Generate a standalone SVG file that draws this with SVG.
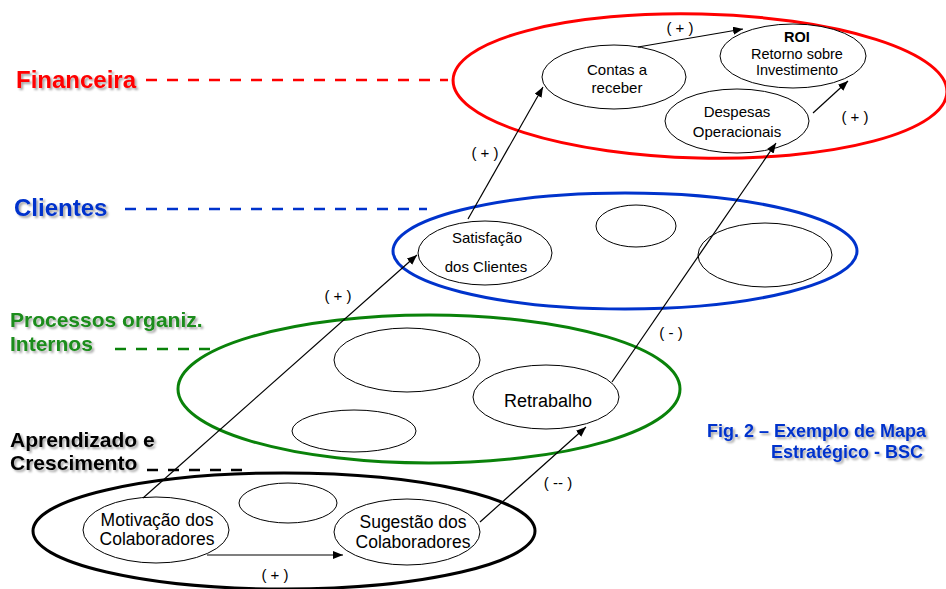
<svg xmlns="http://www.w3.org/2000/svg" width="946" height="589" viewBox="0 0 946 589">
<style>
.lay{fill:none;stroke-width:3}
.node{fill:#fff;stroke:#000;stroke-width:1}
.t{font-family:"Liberation Sans",Arial,sans-serif;fill:#000;text-anchor:middle}
.cat{font-family:"Liberation Sans",Arial,sans-serif;font-weight:bold}
.dash{stroke-width:2.6;stroke-dasharray:11 10;fill:none}
.con{stroke:#000;stroke-width:1.2;fill:none}
.sg{font-family:"Liberation Sans",Arial,sans-serif;font-size:15px;text-anchor:middle;fill:#000}
</style>
<defs>
<marker id="ah" markerUnits="userSpaceOnUse" markerWidth="11" markerHeight="9" refX="10" refY="4" orient="auto">
<path d="M0,0 L10,4 L0,8 z" fill="#000"/>
</marker>
<filter id="sh" x="-10%" y="-30%" width="130%" height="180%">
<feDropShadow dx="2" dy="2" stdDeviation="1.2" flood-color="#000" flood-opacity="0.35"/>
</filter>
</defs>
<rect width="946" height="589" fill="#fff"/>

<g id="layer-financeira">
<ellipse class="lay" cx="700" cy="86" rx="247" ry="72" stroke="#ff0000" transform="rotate(1.4 700 86)"/>
<text class="cat" x="16" y="88" font-size="24" fill="#ff0000" filter="url(#sh)">Financeira</text>
<line class="dash" x1="146" y1="80" x2="448" y2="80" stroke="#ff0000"/>
</g>
<g id="layer-clientes">
<ellipse class="lay" cx="625" cy="251" rx="232" ry="58" stroke="#0033cc"/>
<text class="cat" x="14" y="216" font-size="24" fill="#0033cc" filter="url(#sh)">Clientes</text>
<line class="dash" x1="125" y1="209" x2="427" y2="209" stroke="#0033cc"/>
</g>
<g id="layer-processos">
<ellipse class="lay" cx="429" cy="389" rx="251" ry="74" stroke="#0a820a"/>
<text class="cat" x="10" y="327" font-size="21" fill="#1a8c1a" filter="url(#sh)">Processos organiz.</text>
<text class="cat" x="10" y="351" font-size="21" fill="#1a8c1a" filter="url(#sh)">Internos</text>
<line class="dash" x1="115" y1="349" x2="210" y2="349" stroke="#0a820a"/>
</g>
<g id="layer-aprendizado">
<ellipse class="lay" cx="284" cy="531" rx="251" ry="58" stroke="#000"/>
<text class="cat" x="10" y="447" font-size="21" fill="#000" filter="url(#sh)">Aprendizado e</text>
<text class="cat" x="10" y="470" font-size="21" fill="#000" filter="url(#sh)">Crescimento</text>
<line class="dash" x1="147" y1="470" x2="243" y2="470" stroke="#000"/>
</g>

<g id="contas">
<ellipse class="node" cx="614" cy="77" rx="72" ry="32"/>
<text class="t" x="617" y="75" font-size="15">Contas a</text>
<text class="t" x="617" y="93" font-size="15">receber</text>
</g>
<g id="roi">
<ellipse class="node" cx="793" cy="56" rx="73" ry="32"/>
<text class="t" x="797" y="42" font-size="14.5" font-weight="bold">ROI</text>
<text class="t" x="797" y="58.5" font-size="14.5">Retorno sobre</text>
<text class="t" x="797" y="75" font-size="14.5">Investimento</text>
</g>
<g id="despesas">
<ellipse class="node" cx="737" cy="121" rx="72" ry="32"/>
<text class="t" x="737" y="117" font-size="15">Despesas</text>
<text class="t" x="737" y="137" font-size="15">Operacionais</text>
</g>
<g id="satisfacao">
<ellipse class="node" cx="485" cy="253" rx="67" ry="32"/>
<text class="t" x="487" y="243" font-size="15">Satisfação</text>
<text class="t" x="486" y="272" font-size="15">dos Clientes</text>
</g>
<g id="cli-empty-1"><ellipse class="node" cx="636" cy="226" rx="40" ry="21"/></g>
<g id="cli-empty-2"><ellipse class="node" cx="765" cy="255" rx="67" ry="32"/></g>
<g id="proc-empty-1"><ellipse class="node" cx="407" cy="360" rx="73" ry="32"/></g>
<g id="proc-empty-2"><ellipse class="node" cx="354" cy="431" rx="62" ry="21"/></g>
<g id="retrabalho">
<ellipse class="node" cx="546" cy="397" rx="73" ry="32"/>
<text class="t" x="548" y="407" font-size="18">Retrabalho</text>
</g>
<g id="apr-empty"><ellipse class="node" cx="288" cy="503" rx="49" ry="20"/></g>
<g id="motivacao">
<ellipse class="node" cx="156" cy="530" rx="73" ry="33"/>
<text class="t" x="157" y="525.5" font-size="17.5">Motivação dos</text>
<text class="t" x="157" y="545.3" font-size="17.5">Colaboradores</text>
</g>
<g id="sugestao">
<ellipse class="node" cx="407" cy="532" rx="73" ry="33"/>
<text class="t" x="413" y="527.7" font-size="17.5">Sugestão dos</text>
<text class="t" x="413" y="547.5" font-size="17.5">Colaboradores</text>
</g>

<g id="connectors">
<line class="con" x1="638" y1="47" x2="743" y2="29" marker-end="url(#ah)"/>
<line class="con" x1="813" y1="113" x2="848" y2="81" marker-end="url(#ah)"/>
<line class="con" x1="468" y1="219" x2="543" y2="87" marker-end="url(#ah)"/>
<line class="con" x1="612" y1="382" x2="776" y2="143" marker-end="url(#ah)"/>
<line class="con" x1="143" y1="498" x2="417" y2="255" marker-end="url(#ah)"/>
<line class="con" x1="480" y1="522" x2="586" y2="427" marker-end="url(#ah)"/>
<line class="con" x1="207" y1="555" x2="343" y2="555" marker-end="url(#ah)"/>
<text class="sg" x="680" y="33">( + )</text>
<text class="sg" x="855" y="122">( + )</text>
<text class="sg" x="485" y="158">( + )</text>
<text class="sg" x="338" y="301">( + )</text>
<text class="sg" x="671" y="338">( - )</text>
<text class="sg" x="558" y="488">( -- )</text>
<text class="sg" x="275" y="580">( + )</text>
</g>

<g id="caption">
<text class="cat" x="926" y="437" font-size="18" fill="#0033cc" text-anchor="end" filter="url(#sh)">Fig. 2 – Exemplo de Mapa</text>
<text class="cat" x="923" y="458" font-size="18" fill="#0033cc" text-anchor="end" filter="url(#sh)">Estratégico - BSC</text>
</g>
</svg>
